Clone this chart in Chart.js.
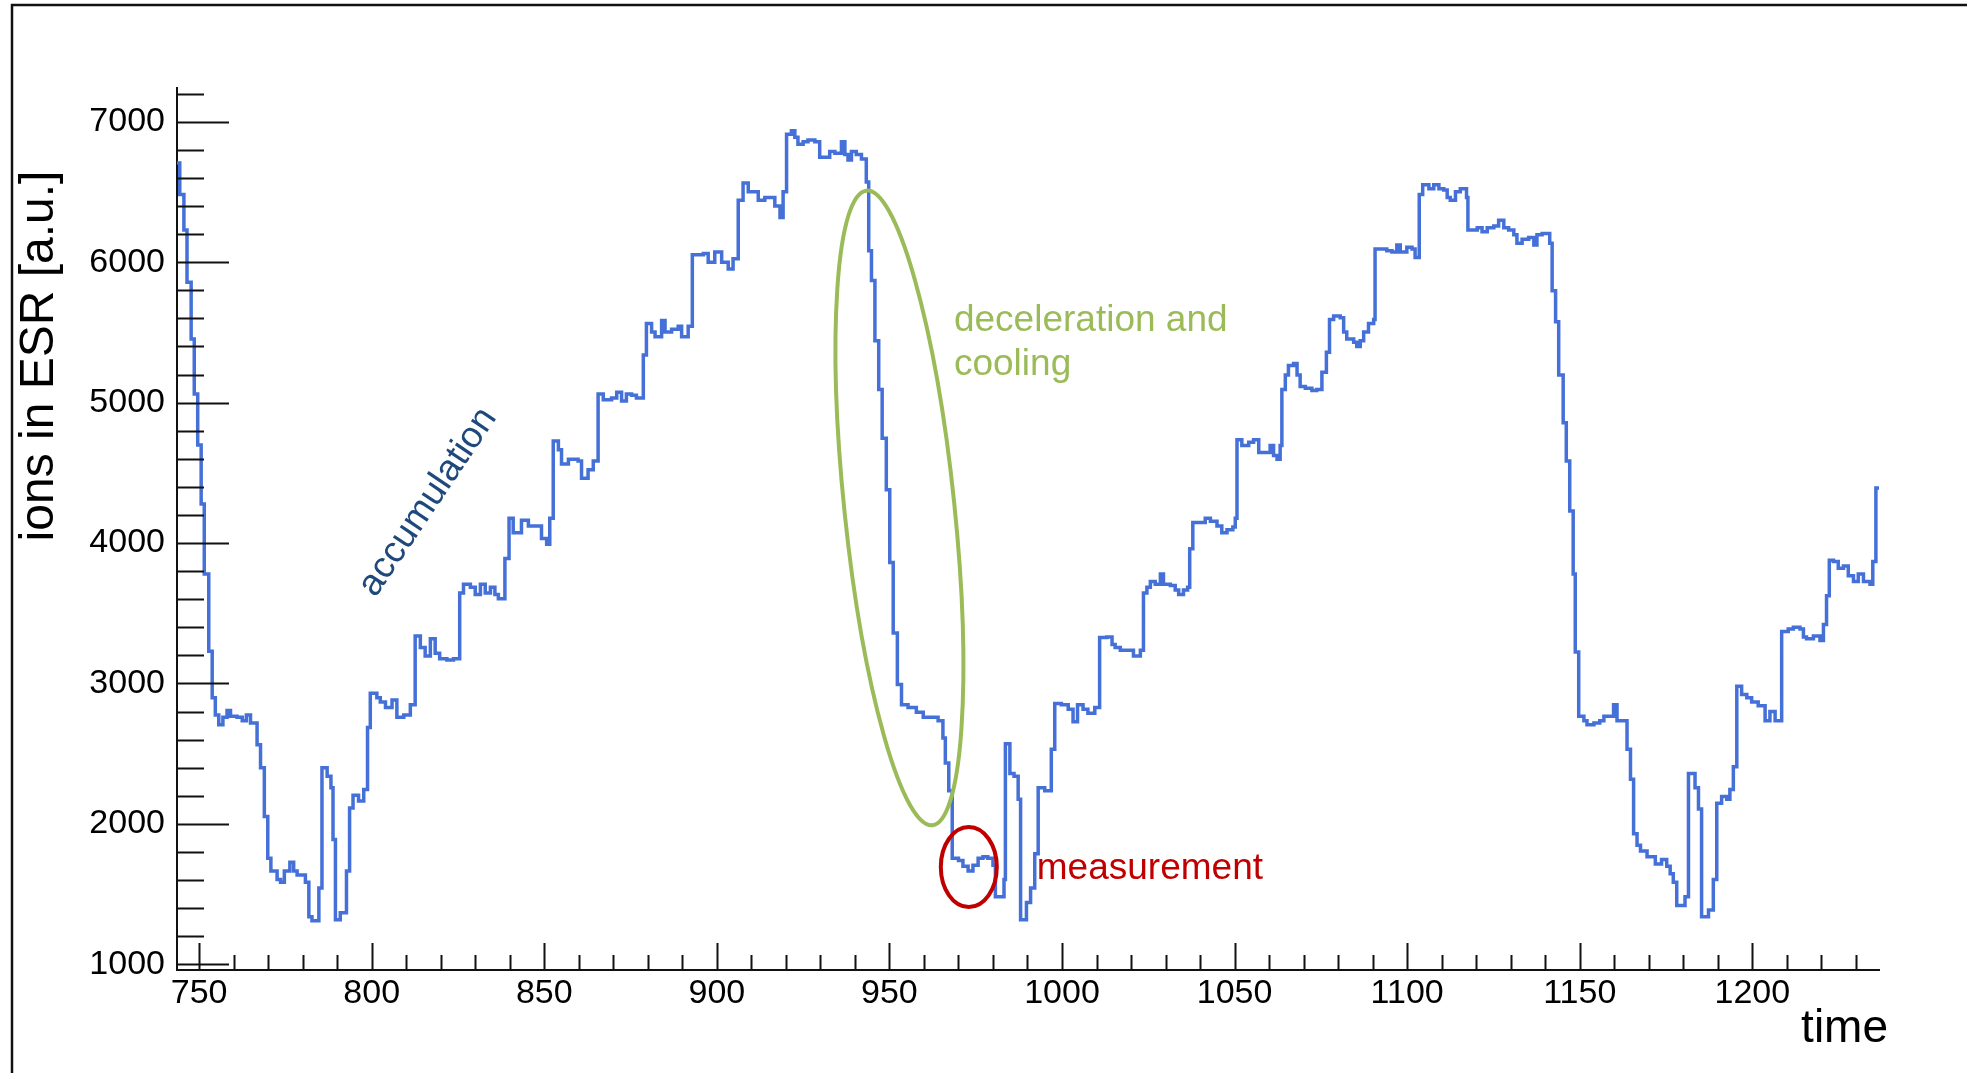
<!DOCTYPE html>
<html>
<head>
<meta charset="utf-8">
<script src="https://cdn.jsdelivr.net/npm/chart.js@4/dist/chart.umd.min.js"></script>
<style>
  html, body { margin: 0; padding: 0; background: #fff; }
  canvas { display: block; }
</style>
</head>
<body>
<canvas id="esr" width="1967" height="1073"></canvas>
<script>
// Ions stored in the ESR vs. time (left edge of each step, value).
const binStart = [
  743.6, 744.4, 745.6, 746.5, 747.7, 748.6, 749.6, 750.6, 751.5, 752.8,
  753.8, 754.7, 755.7, 756.9, 758.1, 759.1, 761.0, 762.5, 763.7, 764.9,
  766.8, 767.8, 768.9, 769.9, 770.8, 772.6, 773.6, 774.7, 776.3, 777.4,
  778.4, 780.8, 781.8, 782.7, 784.7, 785.6, 787.1, 788.2, 788.8, 789.5,
  790.9, 792.7, 793.6, 794.6, 796.2, 797.7, 798.8, 799.6, 801.5, 802.5,
  804.0, 805.9, 807.3, 809.3, 811.2, 812.6, 814.1, 815.5, 817.0, 818.4,
  819.7, 821.8, 823.7, 825.5, 826.6, 828.6, 830.0, 831.5, 832.9, 834.4,
  835.7, 836.7, 838.6, 839.8, 841.0, 843.4, 845.4, 849.2, 850.7, 851.6,
  852.6, 854.1, 855.0, 857.0, 859.8, 860.8, 862.7, 864.2, 865.6, 867.1,
  869.5, 871.0, 872.4, 873.8, 875.3, 876.7, 878.7, 879.6, 881.1, 882.1,
  884.0, 885.0, 886.9, 888.8, 889.8, 891.7, 892.9, 896.1, 897.5, 899.4,
  901.4, 903.3, 904.7, 906.2, 907.6, 909.1, 912.0, 913.9, 916.8, 918.3,
  919.2, 920.2, 921.6, 922.6, 923.5, 925.0, 926.4, 928.4, 929.8, 932.7,
  934.2, 936.1, 937.1, 938.0, 939.0, 940.4, 941.9, 943.3, 944.0, 944.8,
  945.8, 946.9, 947.9, 949.1, 950.1, 951.1, 952.3, 953.5, 955.4, 957.8,
  959.8, 964.1, 965.5, 966.2, 967.2, 968.2, 970.0, 971.3, 972.8, 974.2,
  975.7, 977.1, 978.5, 980.0, 980.7, 983.2, 983.6, 984.9, 986.1, 987.3,
  988.0, 989.7, 990.9, 992.1, 993.1, 995.0, 996.9, 997.9, 999.8, 1001.8,
  1003.2, 1004.5, 1006.1, 1007.5, 1009.5, 1010.9, 1013.0, 1014.5, 1015.4, 1016.9,
  1020.7, 1022.7, 1023.6, 1024.6, 1025.6, 1027.0, 1028.5, 1029.4, 1031.4, 1032.8,
  1033.8, 1035.2, 1036.4, 1037.0, 1037.9, 1041.5, 1043.0, 1044.9, 1046.3, 1047.8,
  1049.5, 1050.2, 1050.7, 1052.1, 1054.1, 1055.5, 1057.0, 1060.3, 1061.3, 1062.3,
  1063.2, 1063.7, 1064.7, 1065.6, 1067.1, 1068.1, 1069.0, 1070.5, 1072.4, 1073.8,
  1075.3, 1076.6, 1077.5, 1078.7, 1080.6, 1081.6, 1082.5, 1084.5, 1085.4, 1086.4,
  1087.4, 1088.8, 1090.3, 1090.7, 1094.1, 1095.6, 1097.0, 1098.0, 1099.9, 1101.4,
  1102.3, 1103.5, 1104.5, 1106.3, 1107.7, 1109.2, 1110.6, 1111.6, 1112.5, 1114.0,
  1115.4, 1117.2, 1117.6, 1120.3, 1121.7, 1123.2, 1125.1, 1126.5, 1128.0, 1129.4,
  1130.9, 1131.8, 1133.3, 1135.2, 1136.7, 1137.6, 1139.1, 1141.3, 1142.0, 1143.0,
  1143.9, 1145.2, 1146.1, 1147.1, 1148.1, 1148.7, 1149.7, 1151.2, 1152.1, 1154.1,
  1155.8, 1157.0, 1159.8, 1160.8, 1163.7, 1164.7, 1165.6, 1166.6, 1167.6, 1169.5,
  1171.9, 1173.7, 1175.2, 1176.2, 1177.1, 1178.1, 1180.5, 1181.5, 1183.4, 1184.4,
  1185.3, 1187.3, 1188.7, 1189.7, 1191.1, 1192.6, 1193.5, 1194.5, 1195.5, 1196.9,
  1198.4, 1199.8, 1201.7, 1203.7, 1205.1, 1206.6, 1208.5, 1210.4, 1211.9, 1213.8,
  1214.8, 1215.7, 1217.7, 1219.6, 1220.6, 1221.5, 1222.3, 1223.5, 1224.9, 1226.4,
  1227.8, 1229.3, 1230.7, 1232.2, 1234.1, 1234.9, 1235.8, 1236.7
];
const ionCounts = [
  6706, 6482, 6229, 5857, 5453, 5061, 4698, 4278, 3780, 3229,
  2898, 2776, 2706, 2759, 2808, 2767, 2759, 2735, 2776, 2718,
  2563, 2400, 2053, 1755, 1665, 1604, 1584, 1665, 1727, 1665,
  1637, 1584, 1339, 1310, 1543, 2400, 2339, 2257, 1890, 1318,
  1367, 1665, 2114, 2204, 2163, 2245, 2686, 2931, 2898, 2869,
  2829, 2882, 2759, 2776, 2849, 3339, 3257, 3196, 3318, 3216,
  3176, 3167, 3176, 3645, 3706, 3686, 3633, 3706, 3645, 3686,
  3633, 3604, 3890, 4176, 4073, 4163, 4122, 4033, 3992, 4176,
  4727, 4665, 4563, 4596, 4584, 4461, 4522, 4584, 5061, 5020,
  5033, 5073, 5012, 5061, 5053, 5033, 5339, 5563, 5502, 5469,
  5584, 5502, 5522, 5543, 5469, 5543, 6053, 6061, 6000, 6073,
  6000, 5951, 6024, 6441, 6563, 6502, 6441, 6461, 6400, 6318,
  6502, 6910, 6935, 6890, 6840, 6857, 6869, 6857, 6747, 6788,
  6776, 6857, 6767, 6727, 6788, 6767, 6735, 6571, 6082, 5869,
  5441, 5094, 4747, 4380, 3861, 3359, 2992, 2849, 2829, 2796,
  2759, 2735, 2612, 2433, 2237, 1755, 1739, 1698, 1665, 1706,
  1755, 1767, 1755, 1706, 1482, 1604, 2571, 2359, 2339, 2176,
  1318, 1440, 1543, 1788, 2257, 2237, 2531, 2857, 2849, 2816,
  2727, 2849, 2816, 2788, 2829, 3327, 3331, 3278, 3257, 3237,
  3196, 3237, 3645, 3686, 3727, 3706, 3780, 3706, 3698, 3665,
  3633, 3665, 3686, 3959, 4147, 4176, 4155, 4122, 4073, 4094,
  4114, 4176, 4735, 4694, 4718, 4735, 4645, 4694, 4624, 4596,
  4694, 5094, 5196, 5265, 5278, 5196, 5114, 5102, 5086, 5094,
  5216, 5359, 5592, 5616, 5604, 5502, 5453, 5429, 5400, 5441,
  5502, 5563, 5592, 6094, 6082, 6073, 6122, 6073, 6106, 6094,
  6033, 6482, 6551, 6522, 6551, 6522, 6514, 6461, 6441, 6502,
  6522, 6461, 6229, 6245, 6216, 6245, 6257, 6298, 6245, 6229,
  6196, 6135, 6163, 6176, 6122, 6196, 6204, 6135, 5796, 5576,
  5196, 4857, 4584, 4229, 3780, 3224, 2767, 2735, 2706, 2718,
  2735, 2767, 2849, 2735, 2531, 2318, 1931, 1849, 1808, 1767,
  1714, 1747, 1698, 1645, 1584, 1420, 1482, 2359, 2257, 2106,
  1339, 1388, 1604, 2147, 2196, 2176, 2245, 2408, 2980, 2922,
  2898, 2869, 2841, 2735, 2800, 2735, 3371, 3388, 3400, 3388,
  3331, 3318, 3339, 3306, 3420, 3624, 3878, 3869, 3820, 3837,
  3767, 3727, 3780, 3727, 3706, 3869, 4392, 4392
];

// Axis ranges and tick marks (ROOT style: ticks point into the frame)
const timeRange = [743.6, 1236.7];
const ionRange = [960, 7240];
const timeLabels = [750, 800, 850, 900, 950, 1000, 1050, 1100, 1150, 1200];
const ionLabels = [1000, 2000, 3000, 4000, 5000, 6000, 7000];
const timeMinorStep = 10;
const ionMinorStep = 200;

const FONT = '"Liberation Sans", Arial, Helvetica, sans-serif';
const CURVE_COLOR = '#4470d8';

const points = binStart.map((t, i) => ({ x: t, y: ionCounts[i] }));

/** Page frame, inward tick marks, axis titles and the hand-drawn annotations. */
const decorations = {
  id: 'decorations',
  beforeDraw(chart) {
    const { ctx } = chart;
    ctx.save();
    ctx.fillStyle = '#fff';
    ctx.fillRect(0, 0, chart.width, chart.height);
    ctx.strokeStyle = '#111';
    ctx.lineWidth = 2.5;
    ctx.beginPath();
    ctx.moveTo(12, chart.height);
    ctx.lineTo(12, 5);
    ctx.lineTo(chart.width, 5);
    ctx.stroke();
    ctx.restore();
  },
  afterDraw(chart) {
    const { ctx, chartArea: area, scales: { x, y } } = chart;
    ctx.save();

    // tick marks
    ctx.strokeStyle = '#111';
    ctx.lineWidth = 2;
    ctx.beginPath();
    for (let v = 750; v <= timeRange[1]; v += timeMinorStep) {
      const px = Math.round(x.getPixelForValue(v)) + 0.5;
      const len = v % 50 === 0 ? 27 : 15;
      ctx.moveTo(px, area.bottom);
      ctx.lineTo(px, area.bottom - len);
    }
    for (let v = 1000; v <= ionRange[1]; v += ionMinorStep) {
      const py = Math.round(y.getPixelForValue(v)) + 0.5;
      const len = v % 1000 === 0 ? 52 : 27;
      ctx.moveTo(area.left, py);
      ctx.lineTo(area.left + len, py);
    }
    ctx.stroke();

    // axis titles
    ctx.fillStyle = '#000';
    ctx.font = `48px ${FONT}`;
    ctx.textAlign = 'center';
    ctx.textBaseline = 'alphabetic';
    ctx.save();
    ctx.translate(53, 356);
    ctx.rotate(-Math.PI / 2);
    ctx.fillText('ions in ESR [a.u.]', 0, 0);
    ctx.restore();
    ctx.font = `46px ${FONT}`;
    ctx.textAlign = 'right';
    ctx.fillText('time', 1888, 1042);

    // annotations
    ctx.font = `37px ${FONT}`;
    ctx.save();
    ctx.translate(x.getPixelForValue(816.3), y.getPixelForValue(4292));
    ctx.rotate(-56.1 * Math.PI / 180);
    ctx.fillStyle = '#1f497d';
    ctx.textAlign = 'center';
    ctx.textBaseline = 'middle';
    ctx.fillText('accumulation', 0, 0);
    ctx.restore();

    ctx.textAlign = 'left';
    ctx.fillStyle = '#9bbb59';
    const dx = x.getPixelForValue(968.7), dy = y.getPixelForValue(5513);
    ctx.fillText('deceleration and', dx, dy);
    ctx.fillText('cooling', dx, dy + 44);

    ctx.fillStyle = '#c00000';
    ctx.fillText('measurement', x.getPixelForValue(992.7), y.getPixelForValue(1608));

    ctx.lineWidth = 4;
    ctx.strokeStyle = '#9bbb59';
    ctx.beginPath();
    ctx.ellipse(x.getPixelForValue(952.9), y.getPixelForValue(4250), 55, 319, -5.94 * Math.PI / 180, 0, Math.PI * 2);
    ctx.stroke();

    ctx.strokeStyle = '#c00000';
    ctx.beginPath();
    ctx.ellipse(x.getPixelForValue(973.0), y.getPixelForValue(1693), 28, 40, 0, 0, Math.PI * 2);
    ctx.stroke();

    ctx.restore();
  }
};

new Chart(document.getElementById('esr'), {
  type: 'line',
  data: {
    datasets: [{
      data: points,
      stepped: true,
      borderColor: CURVE_COLOR,
      borderWidth: 3.5,
      borderJoinStyle: 'miter',
      pointRadius: 0,
      fill: false,
    }]
  },
  options: {
    responsive: false,
    animation: false,
    devicePixelRatio: 1,
    layout: { padding: { top: 88, right: 88, left: 0, bottom: 0 } },
    plugins: {
      legend: { display: false },
      tooltip: { enabled: false }
    },
    scales: {
      x: {
        type: 'linear',
        min: timeRange[0],
        max: timeRange[1],
        grid: { display: false, drawTicks: false },
        border: { display: true, color: '#111', width: 2 },
        ticks: {
          color: '#000',
          font: { family: FONT, size: 34 },
          padding: 3,
          autoSkip: false,
          maxRotation: 0,
          callback: (v) => String(v)
        },
        afterBuildTicks: (s) => { s.ticks = timeLabels.map(v => ({ value: v })); },
        afterFit: (s) => { s.height = 103; }
      },
      y: {
        type: 'linear',
        min: ionRange[0],
        max: ionRange[1],
        grid: { display: false, drawTicks: false },
        border: { display: true, color: '#111', width: 2 },
        ticks: {
          color: '#000',
          font: { family: FONT, size: 34 },
          padding: 12,
          callback: (v) => String(v)
        },
        afterBuildTicks: (s) => { s.ticks = ionLabels.map(v => ({ value: v })); },
        afterFit: (s) => { s.width = 177; }
      }
    }
  },
  plugins: [decorations]
});
</script>
</body>
</html>
